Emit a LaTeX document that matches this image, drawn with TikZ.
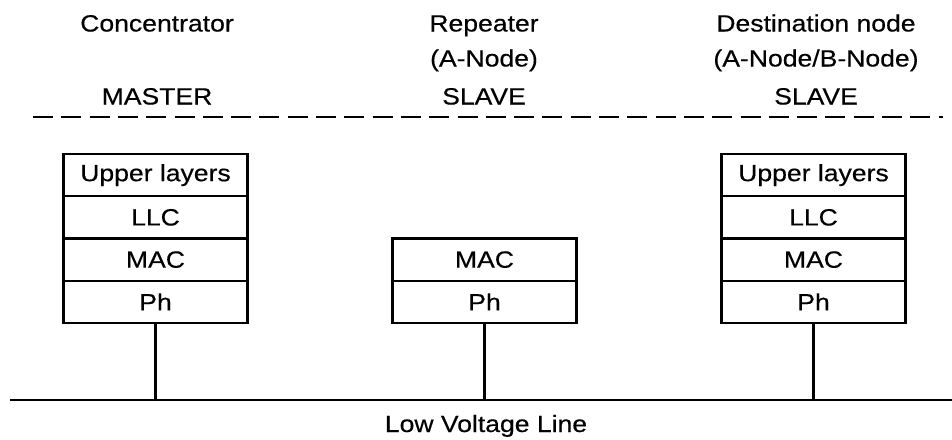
\documentclass[tikz,border=0pt]{standalone}
\usepackage{fontspec}
\setmainfont{Liberation Sans}[FakeStretch=1.13, FakeBold=0.4]
\usetikzlibrary{positioning}

\begin{document}
\begin{tikzpicture}[
  x=1pt, y=-1pt,
  layer/.style={draw, rectangle, line width=2.2pt, minimum width=184pt, minimum height=42.25pt, inner sep=0pt, outer sep=0pt, font=\fontsize{23.5}{28}\selectfont},
  caption/.style={anchor=base, inner sep=0pt, font=\fontsize{23.5}{28}\selectfont},
  bus/.style={line width=2.2pt}
]
\useasboundingbox (0,0) rectangle (952,439);
% headers
\node[caption] (conc) at (157,31.5) {Concentrator};
\node[caption] (master) at (157,104.5) {MASTER};
\node[caption] (rep) at (484,31.5) {Repeater};
\node[caption] (repsub) at (484,66.5) {(A-Node)};
\node[caption] (repslave) at (484,104.5) {SLAVE};
\node[caption] (dest) at (816,31.5) {Destination node};
\node[caption] (destsub) at (816,66.5) {(A-Node/B-Node)};
\node[caption] (destslave) at (816,104.5) {SLAVE};
\draw[line width=2.2pt, dash pattern=on 20pt off 8.3pt] (33,117) -- (943,117);
% protocol stacks
\node[layer] (cupper) at (155.5,175.1) {Upper layers};
\node[layer, below=0pt of cupper] (cllc) {LLC};
\node[layer, below=0pt of cllc] (cmac) {MAC};
\node[layer, below=0pt of cmac] (cph) {Ph};
\node[layer, right=145pt of cmac] (rmac) {MAC};
\node[layer, below=0pt of rmac] (rph) {Ph};
\node[layer, right=145pt of rmac] (dmac) {MAC};
\node[layer, above=0pt of dmac] (dllc) {LLC};
\node[layer, above=0pt of dllc] (dupper) {Upper layers};
\node[layer, below=0pt of dmac] (dph) {Ph};
% low voltage line
\coordinate (lvwest) at (10,400);
\coordinate (lveast) at (952,400);
\draw[bus] (lvwest) -- (lveast);
\draw[bus] (cph.south) -- (cph.south |- lvwest);
\draw[bus] (rph.south) -- (rph.south |- lvwest);
\draw[bus] (dph.south) -- (dph.south |- lvwest);
\node[caption] (lvlabel) at (486,432) {Low Voltage Line};
\end{tikzpicture}
\end{document}
